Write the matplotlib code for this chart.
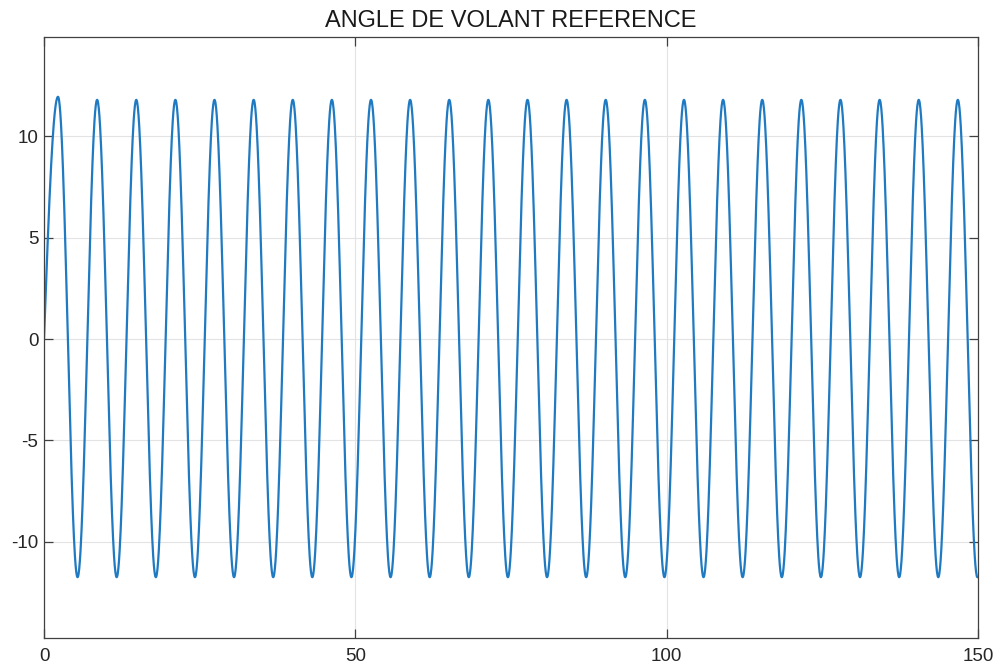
import numpy as np
import matplotlib
matplotlib.use("Agg")
import matplotlib.pyplot as plt

# ---- data ----
title = "ANGLE DE VOLANT REFERENCE"
start_t, start_v = 0.0, 0.0
peak_t = [2.25, 8.53, 14.82, 21.10, 27.38, 33.67, 39.95, 46.23, 52.52, 58.80,
          65.08, 71.36, 77.65, 83.93, 90.21, 96.50, 102.78, 109.06, 115.35,
          121.63, 127.91, 134.20, 140.48, 146.76]
peak_v = [11.95] + [11.8] * 23
trough_t = [5.39, 11.67, 17.96, 24.24, 30.52, 36.81, 43.09, 49.37, 55.66, 61.94,
            68.22, 74.50, 80.79, 87.07, 93.35, 99.64, 105.92, 112.20, 118.49,
            124.77, 131.05, 137.34, 143.62, 149.90]
trough_v = [-11.75] * 24
end_t = 150.0
xticks = [0, 50, 100, 150]
yticks = [-10, -5, 0, 5, 10]

# ---- build a smooth curve through the read extrema (half-cosine segments) ----
ext_t = [start_t]
ext_v = [start_v]
for pt, pv, tt, tv in zip(peak_t, peak_v, trough_t, trough_v):
    ext_t += [pt, tt]
    ext_v += [pv, tv]

ts, vs = [], []
for i in range(len(ext_t) - 1):
    t0, t1 = ext_t[i], ext_t[i + 1]
    v0, v1 = ext_v[i], ext_v[i + 1]
    s = np.linspace(0, 1, 60)
    if i == 0:
        w = np.sin(s * np.pi / 2)
    else:
        w = (1 - np.cos(s * np.pi)) / 2
    ts.append(t0 + (t1 - t0) * s)
    vs.append(v0 + (v1 - v0) * w)
ts.append(np.array([ext_t[-1], end_t]))
vs.append(np.array([ext_v[-1], ext_v[-1]]))
t = np.concatenate(ts)
v = np.concatenate(vs)

plt.rcParams['font.family'] = ['Liberation Sans', 'DejaVu Sans']
plt.rcParams['axes.unicode_minus'] = False
fig = plt.figure(figsize=(10, 6.68), dpi=100)
ax = fig.add_axes([0.044, 0.0449, 0.934, 0.8997])

ax.plot(t, v, color='#1f7ac2', lw=1.6)

ax.set_xlim(0, 150)
ax.set_ylim(-14.75, 14.9)
ax.set_xticks(xticks)
ax.set_yticks(yticks)
ax.grid(True, color='#e3e3e3', lw=0.8)
ax.set_axisbelow(True)
for sp in ax.spines.values():
    sp.set_color('#404040')
    sp.set_linewidth(0.9)
ax.tick_params(direction='in', length=6.5, width=0.9, color='#404040',
               top=True, right=True, labelsize=13.5, labelcolor='#262626')
ax.tick_params(axis='x', pad=7)
ax.tick_params(axis='y', pad=4)
ax.set_title(title, fontsize=17, color='#1a1a1a', pad=7)

fig.savefig('out.png', dpi=100)
